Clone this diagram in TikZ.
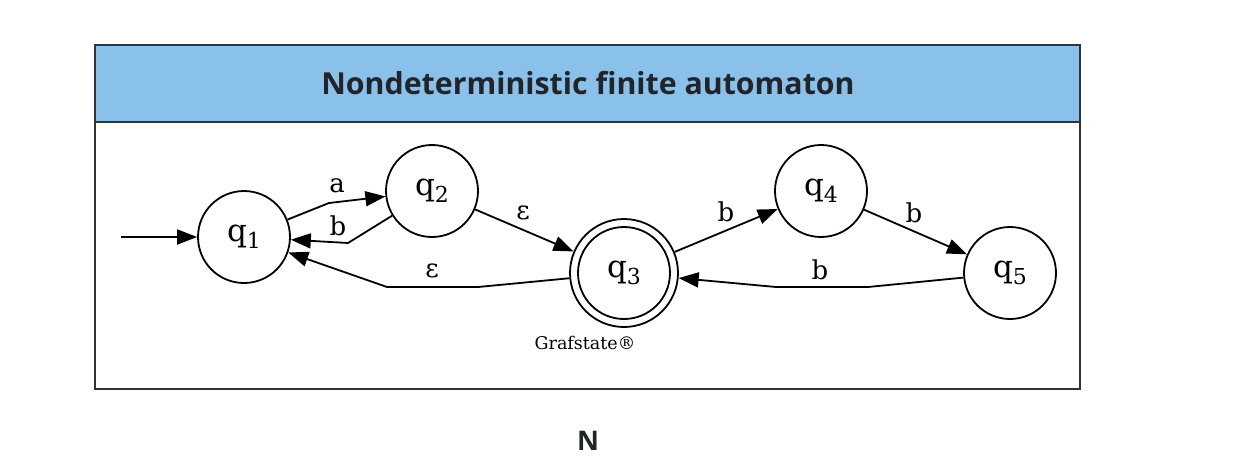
\documentclass[tikz,border=0pt]{standalone}
\usepackage{fontspec}
\usetikzlibrary{arrows.meta}
\newfontfamily\dvs{DejaVu Serif}
\newfontfamily\osbold{Open Sans Bold}
\definecolor{hdr}{HTML}{8AC1EB}
\definecolor{ink}{HTML}{212529}
\definecolor{frame}{HTML}{333333}
\newcommand{\qsub}[1]{\raisebox{-7pt}{\fontsize{22}{22}\selectfont #1}}
\tikzset{
  state/.style={circle,draw,line width=1.8pt,minimum size=92pt,inner sep=0pt,font=\dvs\fontsize{31}{32}\selectfont},
  edge/.style={line width=1.8pt,-{Triangle[length=20pt,width=15pt]}},
  elabel/.style={font=\dvs\fontsize{26}{27}\selectfont,inner sep=0pt}
}
\begin{document}
\begin{tikzpicture}[x=1pt,y=-1pt]
\useasboundingbox (0,0) rectangle (1234,472);
\fill[white] (0,0) rectangle (1234,472);
\fill[hdr] (95,45) rectangle (1080,122);
\draw[frame,line width=1.3pt] (95,45) rectangle (1080,389);
\draw[frame,line width=1.3pt] (95,122) -- (1080,122);
\node[ink,font=\osbold\fontsize{30.3}{32}\selectfont] (title) at (588,83) {Nondeterministic finite automaton};
\node[state] (q1) at (244,237) {q\qsub{1}};
\node[state] (q2) at (432,191) {q\qsub{2}};
\node[state,minimum size=108pt] (q3) at (624,273) {};
\node[state] (q3i) at (624,273) {q\qsub{3}};
\node[state] (q4) at (821,191) {q\qsub{4}};
\node[state] (q5) at (1010,273) {q\qsub{5}};
\coordinate (s) at (121,237);
\draw[edge] (s) -- (q1);
\draw[edge] (q1) -- (329,203) -- (q2);
\draw[edge] (q2) -- (348,243) -- (q1);
\draw[edge] (q2) -- (q3);
\draw[edge] (q3) -- (478,287) -- (387,287) -- (q1);
\draw[edge] (q3) -- (q4);
\draw[edge] (q4) -- (q5);
\draw[edge] (q5) -- (868,287) -- (776,287) -- (q3);
\node[elabel] (la) at (337,186) {a};
\node[elabel] (lb1) at (338,226) {b};
\node[elabel] (le1) at (523,213) {ε};
\node[elabel] (le2) at (432,271) {ε};
\node[elabel] (lb2) at (726,212) {b};
\node[elabel] (lb3) at (914,213) {b};
\node[elabel] (lb4) at (820,270) {b};
\node[font=\dvs\fontsize{17.5}{19}\selectfont] (gs) at (585,343) {Grafstate®};
\node[ink,font=\osbold\fontsize{27}{28}\selectfont] (N) at (588,441) {N};
\end{tikzpicture}
\end{document}
